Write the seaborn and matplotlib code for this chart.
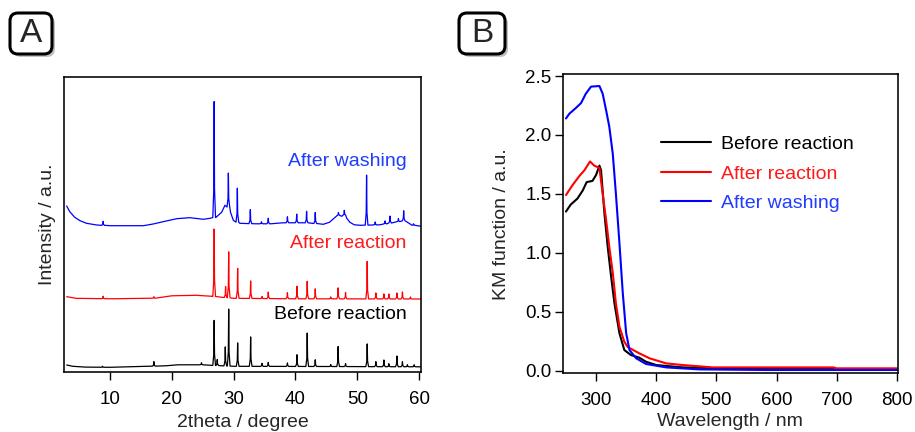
import numpy as np
import pandas as pd
import matplotlib
matplotlib.use("Agg")
import matplotlib.pyplot as plt
import seaborn as sns
from matplotlib.patches import FancyBboxPatch
from matplotlib.transforms import IdentityTransform
from matplotlib.ticker import FormatStrFormatter

# ---------------- XRD patterns (2theta in degree, intensity offset per trace) ----------------
before_base_x = [3.0, 4.0, 6.0, 10.0, 15.0, 19.0, 21.0, 25.0, 26.5, 30.0, 45.0, 60.3]
before_base_y = [7.3, 6.0, 5.2, 5.0, 5.8, 6.5, 7.5, 7.5, 7.0, 6.0, 5.8, 5.5]
before_peak_x = [8.8, 17.1, 24.8, 26.85, 27.35, 28.65, 29.2, 30.65, 32.75, 34.6, 35.6, 38.7,
                 40.25, 41.9, 43.2, 45.7, 46.9, 48.1, 51.6, 53.0, 54.3, 55.1, 56.4, 57.3, 58.1, 59.2]
before_peak_h = [1.0, 4.5, 2.0, 45, 6, 19, 57, 23.4, 29.4, 3, 4, 3.5,
                 11.7, 33.4, 6.7, 2, 20, 3, 22.7, 5, 6.7, 3, 10.7, 5, 2, 2]

after_base_x = [3.0, 4.5, 10.0, 17.0, 20.0, 24.0, 26.5, 30.0, 40.0, 60.3]
after_base_y = [75.6, 74.0, 73.5, 74.0, 76.5, 77.0, 76.0, 74.0, 73.5, 73.3]
after_peak_x = [8.9, 17.1, 26.85, 28.7, 29.2, 30.65, 32.75, 34.6, 35.6, 38.7, 40.25, 41.9,
                43.2, 45.7, 46.9, 48.1, 51.6, 53.0, 54.3, 55.1, 56.4, 57.3, 58.6]
after_peak_h = [2.5, 1.5, 67.5, 11, 46, 30, 17.5, 2, 6.5, 6, 12.5, 17.5,
                10, 2, 11, 6.5, 37.5, 6, 5, 5, 6, 7, 2]

washed_base_x = [3.0, 3.5, 4.3, 5.15, 6.2, 7.85, 10.0, 15.4, 17.0, 18.6, 20.8, 22.9, 25.1, 26.2,
                 27.15, 28.06, 28.6, 28.9, 29.5, 29.95, 31.0, 33.5, 36.0, 38.0, 40.0, 42.0, 44.5,
                 45.5, 46.4, 47.0, 47.5, 47.9, 48.3, 48.8, 49.5, 50.5, 53.7, 56.0, 57.5, 58.5,
                 59.1, 60.3]
washed_base_y = [166.3, 160.6, 155.0, 151.6, 149.0, 147.3, 146.6, 146.6, 148.3, 150.6, 153.6, 154.6,
                 153.0, 154.0, 155.0, 160.0, 167.0, 169.0, 160.0, 152.0, 149.0, 148.5, 148.5, 149.5,
                 149.5, 149.5, 148.0, 150.0, 155.0, 157.0, 156.0, 157.0, 154.0, 150.0, 147.5, 147.0,
                 147.5, 150.0, 151.5, 148.5, 147.0, 146.0]
washed_peak_x = [8.9, 26.85, 29.15, 30.6, 32.7, 34.5, 35.6, 38.7, 40.2, 41.8, 43.2, 46.95, 47.9,
                 51.5, 52.9, 54.5, 55.3, 56.65, 57.5, 59.1]
washed_peak_h = [4, 116, 34, 34, 14, 2, 5.5, 6, 8.7, 11.5, 11, 3, 5,
                 50, 3, 3, 7, 3, 10, 1.5]

xrd_labels = ["Before reaction", "After reaction", "After washing"]

# ---------------- Diffuse reflectance (KM function) ----------------
wl_before = [250, 258, 269, 278, 284.4, 294, 300, 305.6, 308.3, 313.9, 319.4, 325, 330.6, 338.9,
             347, 358, 372, 383, 400, 444, 528, 800]
km_before = [1.35, 1.41, 1.46, 1.53, 1.60, 1.61, 1.66, 1.74, 1.70, 1.335, 1.05, 0.80, 0.57, 0.317,
             0.175, 0.133, 0.11, 0.076, 0.048, 0.028, 0.017, 0.011]

wl_after = [250, 261, 272, 280.6, 290, 297, 305.6, 311, 316.7, 322, 327.8, 333, 339, 347, 352.8,
            372, 389, 416.7, 444, 494, 694, 700, 800]
km_after = [1.49, 1.575, 1.65, 1.70, 1.775, 1.74, 1.72, 1.50, 1.28, 1.05, 0.83, 0.57, 0.37, 0.246,
            0.20, 0.147, 0.105, 0.062, 0.048, 0.028, 0.028, 0.02, 0.02]

wl_washed = [250, 255.6, 266.7, 275, 283, 291.7, 305.6, 311, 316.7, 322, 327.8, 333, 338.9, 344.4,
             350, 355.6, 366.7, 383, 416.7, 472, 583, 800]
km_washed = [2.14, 2.18, 2.23, 2.27, 2.35, 2.41, 2.415, 2.35, 2.21, 2.07, 1.84, 1.50, 1.08, 0.66,
             0.32, 0.175, 0.105, 0.057, 0.028, 0.011, 0.006, 0.006]

colors = {"Before reaction": "#000000", "After reaction": "#ff0000", "After washing": "#0000ff"}
text_colors = {"Before reaction": "#000000", "After reaction": "#ff1a1a", "After washing": "#1f3cff"}


def pattern(base_x, base_y, peak_x, peak_h, label):
    """Polyline of a diffraction trace: baseline knots plus a narrow spike for each reflection."""
    base_x = np.asarray(base_x, float)
    base_y = np.asarray(base_y, float)
    xs, ys = [], []
    for bx, by in zip(base_x, base_y):
        if all(abs(bx - p) > 0.25 for p in peak_x):
            xs.append(bx)
            ys.append(by)
    for p, h in zip(peak_x, peak_h):
        b = np.interp(p, base_x, base_y)
        xs += [p - 0.22, p - 0.06, p, p + 0.06, p + 0.22]
        ys += [b, b + 0.25 * h, b + h, b + 0.25 * h, b]
    order = np.argsort(xs)
    return pd.DataFrame({"two_theta": np.asarray(xs)[order],
                         "intensity": np.asarray(ys)[order],
                         "sample": label})


xrd = pd.concat([
    pattern(before_base_x, before_base_y, before_peak_x, before_peak_h, xrd_labels[0]),
    pattern(after_base_x, after_base_y, after_peak_x, after_peak_h, xrd_labels[1]),
    pattern(washed_base_x, washed_base_y, washed_peak_x, washed_peak_h, xrd_labels[2]),
], ignore_index=True)

uv = pd.concat([
    pd.DataFrame({"wavelength": wl_before, "km": km_before, "sample": "Before reaction"}),
    pd.DataFrame({"wavelength": wl_after, "km": km_after, "sample": "After reaction"}),
    pd.DataFrame({"wavelength": wl_washed, "km": km_washed, "sample": "After washing"}),
], ignore_index=True)

sns.set_theme(style="ticks")
plt.rcParams["font.family"] = ["Liberation Sans", "DejaVu Sans"]
plt.rcParams["axes.linewidth"] = 1.15
plt.rcParams["xtick.major.width"] = 1.0
plt.rcParams["ytick.major.width"] = 1.0
plt.rcParams["xtick.major.size"] = 5.5
plt.rcParams["ytick.major.size"] = 5.5
plt.rcParams["xtick.color"] = "black"
plt.rcParams["ytick.color"] = "black"
plt.rcParams["axes.edgecolor"] = "black"

fig = plt.figure(figsize=(9.15, 4.32), dpi=100)
axA = fig.add_axes([0.0699, 0.1382, 0.3902, 0.6836])
axB = fig.add_axes([0.6150, 0.1359, 0.3665, 0.6928])

order = ["Before reaction", "After reaction", "After washing"]

# ---- panel A: XRD ----
sns.lineplot(data=xrd, x="two_theta", y="intensity", hue="sample", hue_order=order,
             palette=colors, estimator=None, sort=False, linewidth=0.9, ax=axA, legend=False)
axA.set_xlim(2.56, 60.3)
axA.set_ylim(0, 295.3)
axA.set_xticks([10, 20, 30, 40, 50, 60])
axA.set_yticks([])
axA.tick_params(axis="x", labelsize=13.5, pad=8)
axA.set_xlabel("2theta / degree", fontsize=14, labelpad=4)
axA.set_ylabel("Intensity / a.u.", fontsize=14, labelpad=6)
for side in ["top", "right", "left", "bottom"]:
    axA.spines[side].set_visible(True)

for label, y in zip(order, [57.3, 128.3, 210.6]):
    axA.text(58.0, y, label, color=text_colors[label], fontsize=14, ha="right", va="center")

# ---- panel B: KM function ----
sns.lineplot(data=uv, x="wavelength", y="km", hue="sample", hue_order=order,
             palette=colors, estimator=None, sort=False, linewidth=1.5, ax=axB)
axB.set_xlim(244.6, 802)
axB.set_ylim(-0.022, 2.517)
axB.set_xticks([300, 400, 500, 600, 700, 800])
axB.set_yticks([0.0, 0.5, 1.0, 1.5, 2.0, 2.5])
axB.yaxis.set_major_formatter(FormatStrFormatter("%.1f"))
axB.tick_params(axis="x", labelsize=13.5, pad=8)
axB.tick_params(axis="y", labelsize=13.5, pad=2.5)
axB.set_xlabel("Wavelength / nm", fontsize=14, labelpad=3)
axB.set_ylabel("KM function / a.u.", fontsize=14, labelpad=11)
for side in ["top", "right", "left", "bottom"]:
    axB.spines[side].set_visible(True)

handles, labels = axB.get_legend_handles_labels()
axB.get_legend().remove()
leg = axB.legend(handles, labels, loc="upper left", bbox_to_anchor=(0.292, 0.795),
                 frameon=False, fontsize=14, handlelength=2.6, handletextpad=0.5,
                 labelspacing=0.62, borderpad=0, borderaxespad=0)
for txt, lab in zip(leg.get_texts(), labels):
    txt.set_color(text_colors[lab])

# ---- panel tags ----
H = 432
for tag, x0, w in [("A", 10, 42), ("B", 459, 46)]:
    y_top, h = 13, 41
    shadow = FancyBboxPatch((x0 + 3, H - y_top - h - 3), w, h,
                            boxstyle="round,pad=0,rounding_size=8",
                            transform=IdentityTransform(), facecolor="#9a9a9a",
                            edgecolor="none", alpha=0.6, zorder=1)
    box = FancyBboxPatch((x0, H - y_top - h), w, h,
                         boxstyle="round,pad=0,rounding_size=8",
                         transform=IdentityTransform(), facecolor="white",
                         edgecolor="black", linewidth=2.2, zorder=2)
    fig.patches.extend([shadow, box])
    fig.text((x0 + w / 2) / 915, (H - y_top - h / 2) / H, tag, fontsize=24,
             ha="center", va="center", zorder=3)

fig.savefig("out.png", dpi=100)
